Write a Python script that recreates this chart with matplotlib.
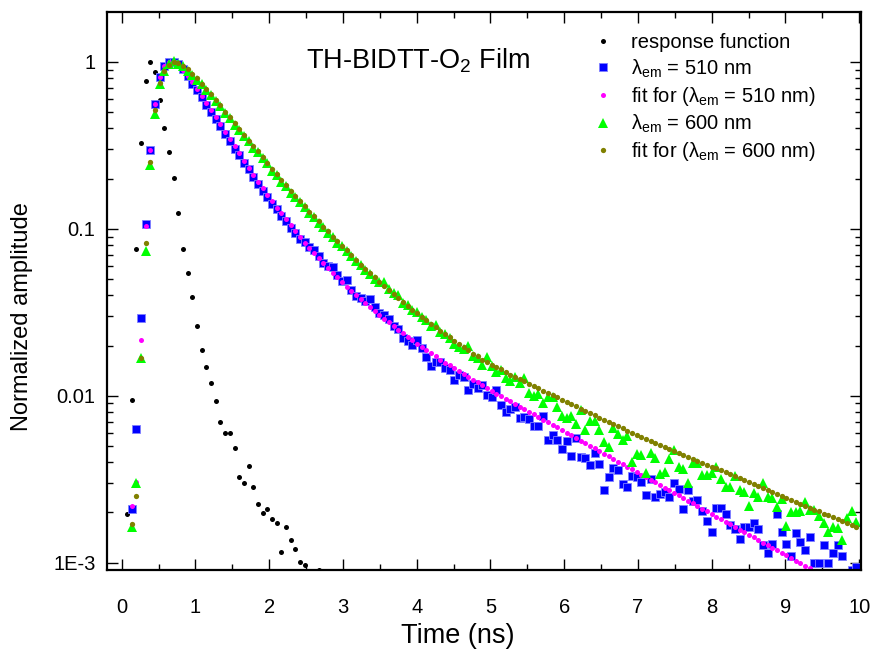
import numpy as np
import matplotlib
matplotlib.use("Agg")
import matplotlib.pyplot as plt
from matplotlib.ticker import FixedLocator, FixedFormatter, MultipleLocator, LogLocator, NullFormatter

plt.rcParams['font.family'] = ['Liberation Sans', 'DejaVu Sans']
plt.rcParams['mathtext.fontset'] = 'custom'
plt.rcParams['mathtext.rm'] = 'Liberation Sans'
plt.rcParams['mathtext.it'] = 'Liberation Sans:italic'
plt.rcParams['mathtext.bf'] = 'Liberation Sans:bold'

# ---- data (time channels of the TCSPC histogram) ----
channel_start_ns = 0.072
channel_width_ns = 0.0634
n_channels = 157
time_ns = channel_start_ns + channel_width_ns * np.arange(n_channels)

# response function (channels 0..41)
response = [0.00196, 0.0094, 0.0755, 0.326, 0.770, 1.0, 0.868, 0.589, 0.401, 0.289,
            0.202, 0.124, 0.0761, 0.0544, 0.0391, 0.0263, 0.0187, 0.0148, 0.0120, 0.00931,
            0.00697, 0.00598, 0.00596, 0.00485, 0.00326, 0.00300, 0.00378, 0.00285, 0.00224, 0.00198,
            0.00209, 0.00183, 0.00173, 0.00116, 0.00164, 0.00137, 0.00121, 0.00101, 0.00097, np.nan,
            np.nan, 0.00091]

# lambda_em = 510 nm data (channels 1..156)
em510 = [0.0021, 0.0063, 0.0292, 0.107, 0.297, 0.560, 0.816, 0.946, 1.0, 1.0,
         0.973, 0.908, 0.825, 0.741, 0.675, 0.618, 0.556, 0.503, 0.455, 0.414,
         0.372, 0.338, 0.303, 0.276, 0.248, 0.227, 0.205, 0.187, 0.169, 0.155,
         0.141, 0.131, 0.119, 0.111, 0.101, 0.0947, 0.0875, 0.0835, 0.0782, 0.0747,
         0.0688, 0.0622, 0.0599, 0.0589, 0.0526, 0.0487, 0.0494, 0.0430, 0.0398, 0.0384,
         0.0370, 0.0379, 0.0342, 0.0312, 0.0303, 0.0288, 0.0262, 0.0251, 0.0221, 0.0213,
         0.0202, 0.0216, 0.0193, 0.0171, 0.0151, 0.0159, 0.0159, 0.0146, 0.0143, 0.0124,
         0.0133, 0.0130, 0.0109, 0.0118, 0.0112, 0.0116, 0.0101, 0.00979, 0.0108, 0.00881,
         0.00796, 0.00834, 0.00860, 0.00741, 0.00751, 0.00726, 0.00659, 0.00655, 0.00757, 0.00543,
         0.00582, 0.00545, 0.00477, 0.00538, 0.00436, 0.00556, 0.00428, 0.00425, 0.00385, 0.00452,
         0.00389, 0.00272, 0.00325, 0.00368, 0.00359, 0.00296, 0.00285, 0.00331, 0.00328, 0.00306,
         0.00253, 0.00316, 0.00248, 0.00258, 0.00266, 0.00247, 0.00299, 0.00275, 0.00211, 0.00274,
         0.00235, 0.00238, 0.00203, 0.00178, 0.00153, 0.00213, 0.00214, 0.00196, 0.00168, 0.00159,
         0.00138, 0.00163, 0.00164, 0.00173, 0.00159, 0.00128, 0.00115, 0.00129, 0.00196, 0.00153,
         0.00129, 0.00109, 0.00150, 0.00133, 0.00119, 0.00143, 0.00099, 0.00099, 0.00128, 0.00099,
         0.00114, 0.00128, 0.00110, 0.00085, 0.00090, 0.000946]

# fit for 510 nm (channels 1..147)
fit510 = [0.0022, 0.00306, 0.0216, 0.104, 0.297, 0.560, 0.813, 0.946, 1.0, 0.993,
          0.959, 0.896, 0.828, 0.756, 0.689, 0.626, 0.570, 0.516, 0.466, 0.423,
          0.382, 0.345, 0.313, 0.283, 0.256, 0.233, 0.211, 0.192, 0.175, 0.159,
          0.146, 0.134, 0.124, 0.114, 0.105, 0.0969, 0.0896, 0.0828, 0.0770, 0.0716,
          0.0667, 0.0623, 0.0581, 0.0547, 0.0516, 0.0481, 0.0451, 0.0425, 0.0401, 0.0380,
          0.0360, 0.0341, 0.0322, 0.0305, 0.0289, 0.0275, 0.0261, 0.0248, 0.0237, 0.0225,
          0.0215, 0.0205, 0.0196, 0.0188, 0.0180, 0.0172, 0.0165, 0.0158, 0.0152, 0.0146,
          0.0140, 0.0135, 0.0130, 0.0125, 0.0121, 0.0116, 0.0112, 0.0107, 0.0103, 0.00996,
          0.00961, 0.00927, 0.00894, 0.00862, 0.00832, 0.00802, 0.00774, 0.00746, 0.00720, 0.00694,
          0.00670, 0.00646, 0.00623, 0.00601, 0.00580, 0.00559, 0.00539, 0.00520, 0.00502, 0.00484,
          0.00467, 0.00450, 0.00434, 0.00419, 0.00404, 0.00390, 0.00376, 0.00363, 0.00350, 0.00337,
          0.00325, 0.00314, 0.00303, 0.00292, 0.00282, 0.00272, 0.00262, 0.00253, 0.00244, 0.00235,
          0.00227, 0.00219, 0.00211, 0.00204, 0.00196, 0.00189, 0.00183, 0.00176, 0.00170, 0.00164,
          0.00158, 0.00153, 0.00147, 0.00142, 0.00137, 0.00132, 0.00128, 0.00123, 0.00119, 0.00115,
          0.00111, 0.00107, 0.00103, 0.000994, 0.000959, 0.000925, 0.000892]

# lambda_em = 600 nm data (channels 1..156)
em600 = [0.00164, 0.0030, 0.0168, 0.0737, 0.241, 0.486, 0.735, 0.883, 0.97, 1.01,
         0.975, 0.94, 0.885, 0.84, 0.785, 0.735, 0.680, 0.635, 0.585, 0.545,
         0.495, 0.462, 0.420, 0.392, 0.360, 0.335, 0.307, 0.289, 0.265, 0.247,
         0.223, 0.209, 0.192, 0.180, 0.165, 0.155, 0.144, 0.135, 0.124, 0.118,
         0.108, 0.102, 0.0945, 0.0890, 0.0825, 0.0785, 0.0735, 0.0690, 0.0640, 0.0605,
         0.0565, 0.0540, 0.0500, 0.0478, 0.0483, 0.0435, 0.0415, 0.0402, 0.0360, 0.0350,
         0.0325, 0.0319, 0.0295, 0.0285, 0.0262, 0.0266, 0.0240, 0.0236, 0.0221, 0.0205,
         0.0197, 0.0190, 0.0198, 0.0172, 0.0168, 0.0153, 0.0171, 0.0151, 0.0138, 0.0143,
         0.0127, 0.0123, 0.0130, 0.0119, 0.0128, 0.0104, 0.0100, 0.0103, 0.00909, 0.00988,
         0.00979, 0.00860, 0.00760, 0.00739, 0.00758, 0.00678, 0.00822, 0.00624, 0.00706, 0.00704,
         0.00622, 0.00531, 0.00496, 0.00639, 0.00590, 0.00543, 0.00574, 0.00403, 0.00448, 0.00442,
         0.00346, 0.00456, 0.00422, 0.00340, 0.00351, 0.00416, 0.00473, 0.00376, 0.00363, 0.00299,
         0.00397, 0.00394, 0.00335, 0.00334, 0.00343, 0.00377, 0.00316, 0.00285, 0.00283, 0.00331,
         0.00272, 0.00266, 0.00219, 0.00262, 0.00248, 0.00300, 0.00247, 0.00243, 0.00217, 0.00242,
         0.00166, 0.00202, 0.00201, 0.00203, 0.00232, 0.00207, 0.00206, 0.00190, 0.00173, 0.00153,
         0.00164, 0.00161, 0.00136, 0.00185, 0.00205, 0.00176]

# fit for 600 nm (channels 1..156)
fit600 = [0.0017, 0.00250, 0.0168, 0.0827, 0.253, 0.516, 0.751, 0.883, 0.959, 1.0,
          0.982, 0.950, 0.904, 0.847, 0.798, 0.741, 0.692, 0.643, 0.594, 0.550,
          0.504, 0.466, 0.429, 0.398, 0.367, 0.338, 0.314, 0.292, 0.271, 0.249,
          0.228, 0.212, 0.196, 0.182, 0.169, 0.157, 0.147, 0.137, 0.127, 0.119,
          0.111, 0.103, 0.0967, 0.0898, 0.0843, 0.0793, 0.0747, 0.0697, 0.0651, 0.0610,
          0.0575, 0.0544, 0.0513, 0.0481, 0.0455, 0.0430, 0.0406, 0.0384, 0.0364, 0.0345,
          0.0328, 0.0312, 0.0298, 0.0283, 0.0270, 0.0257, 0.0245, 0.0234, 0.0224, 0.0214,
          0.0204, 0.0195, 0.0187, 0.0179, 0.0172, 0.0164, 0.0159, 0.0154, 0.0149, 0.0144,
          0.0139, 0.0134, 0.0130, 0.0126, 0.0122, 0.0118, 0.0114, 0.0111, 0.0107, 0.0104,
          0.0101, 0.00977, 0.00948, 0.00919, 0.00891, 0.00863, 0.00837, 0.00812, 0.00788, 0.00764,
          0.00741, 0.00719, 0.00697, 0.00677, 0.00656, 0.00637, 0.00619, 0.00600, 0.00582, 0.00565,
          0.00550, 0.00535, 0.00521, 0.00507, 0.00494, 0.00480, 0.00468, 0.00455, 0.00443, 0.00431,
          0.00420, 0.00409, 0.00398, 0.00387, 0.00377, 0.00367, 0.00357, 0.00348, 0.00338, 0.00329,
          0.00321, 0.00312, 0.00304, 0.00296, 0.00288, 0.00280, 0.00273, 0.00265, 0.00258, 0.00251,
          0.00245, 0.00238, 0.00232, 0.00226, 0.00220, 0.00214, 0.00208, 0.00203, 0.00197, 0.00192,
          0.00187, 0.00182, 0.00177, 0.00172, 0.00168, 0.00163]

series_labels = ['response function',
                 'λ$_{\\mathrm{em}}$ = 510 nm',
                 'fit for (λ$_{\\mathrm{em}}$ = 510 nm)',
                 'λ$_{\\mathrm{em}}$ = 600 nm',
                 'fit for (λ$_{\\mathrm{em}}$ = 600 nm)']
y_tick_values = [0.001, 0.01, 0.1, 1]
y_tick_labels = ['1E-3', '0.01', '0.1', '1']

# ---- figure ----
fig = plt.figure(figsize=(8.75, 6.54), dpi=100)
ax = fig.add_axes([0.1219, 0.1284, 0.8618, 0.8528])

def tslice(series, first):
    return time_ns[first:first + len(series)]

ax.plot(tslice(response, 0), response, 'o', color='black', ms=3.6, mew=0,
        label=series_labels[0])
ax.plot(tslice(em510, 1), em510, 's', color='#0000ff', ms=5.6, mew=0.6,
        mec='#7f7fff', label=series_labels[1])
ax.plot(tslice(fit510, 1), fit510, 'o', color='#ff00ff', ms=3.6, mew=0,
        label=series_labels[2])
ax.plot(tslice(em600, 1), em600, '^', color='#00ff00', ms=6.8, mew=0,
        label=series_labels[3])
ax.plot(tslice(fit600, 1), fit600, 'o', color='#808000', ms=3.8, mew=0,
        label=series_labels[4])

ax.set_yscale('log')
ax.set_xlim(-0.203, 10.02)
ax.set_ylim(0.000904, 1.985)

ax.xaxis.set_major_locator(MultipleLocator(1))
ax.xaxis.set_minor_locator(MultipleLocator(0.5))
ax.yaxis.set_major_locator(FixedLocator(y_tick_values))
ax.yaxis.set_major_formatter(FixedFormatter(y_tick_labels))
ax.yaxis.set_minor_locator(LogLocator(base=10, subs=np.arange(2, 10)))
ax.yaxis.set_minor_formatter(NullFormatter())

ax.tick_params(which='both', direction='in', top=True, right=True, width=1.0)
ax.tick_params(which='major', length=8, labelsize=14.5)
ax.tick_params(which='minor', length=4.5)
ax.tick_params(axis='x', which='major', pad=20)
ax.tick_params(axis='y', which='major', pad=8)
for s in ax.spines.values():
    s.set_linewidth(1.6)

fig.text(458 / 875, 1 - 636 / 654, 'Time (ns)', ha='center', va='center', fontsize=19.5)
fig.text(22 / 875, 1 - 317 / 654, 'Normalized amplitude', ha='center', va='center',
         rotation=90, fontsize=17)
ax.text(0.413, 0.914, 'TH-BIDTT-O$_2$ Film', transform=ax.transAxes,
        ha='center', va='center', fontsize=19.5)

leg = ax.legend(loc='upper left', bbox_to_anchor=(0.645, 0.962), frameon=False,
                fontsize=14.5, handlelength=1.0, handletextpad=0.9,
                labelspacing=0.25, borderpad=0.0, borderaxespad=0.0, numpoints=1)

fig.savefig('out.png', dpi=100)
